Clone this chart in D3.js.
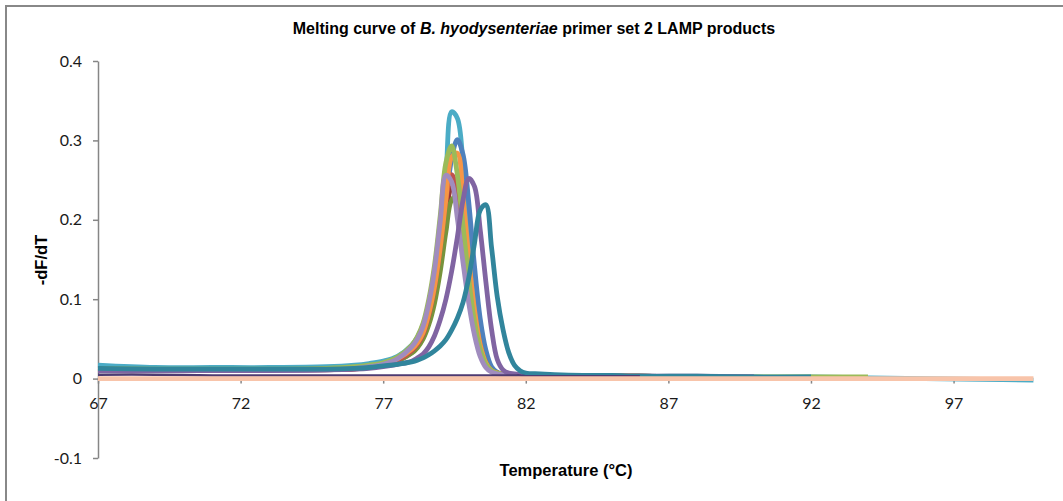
<!DOCTYPE html>
<html>
<head>
<meta charset="utf-8">
<script src="https://cdn.jsdelivr.net/npm/d3@7"></script>
<style>
  html, body { margin: 0; padding: 0; background: #fff; }
  svg { display: block; }
</style>
</head>
<body>
<svg id="chart" width="1063" height="501"></svg>
<script>
// ---------------- DATA ----------------
const temps = [67, 69, 71, 73, 75, 76, 76.5, 77, 77.5, 78,
  78.2, 78.4, 78.6, 78.8, 79.0, 79.2, 79.4, 79.6, 79.8, 80.0,
  80.2, 80.4, 80.6, 80.8, 81.0, 81.2, 81.4, 81.6, 81.8, 82.0,
  82.5, 83, 84, 85, 86, 88, 90, 92, 94, 96, 98, 99.8];

const xTicks = [67, 72, 77, 82, 87, 92, 97];
const yTicks = [-0.1, 0, 0.1, 0.2, 0.3, 0.4];
const yTickLabels = ["-0.1", "0", "0.1", "0.2", "0.3", "0.4"];

const aqua = [0.017,0.014,0.014,0.014,0.015,0.017,0.019,0.022,0.028,0.042,
  0.052,0.068,0.095,0.135,0.178,0.255,0.336,0.328,0.272,0.192,
  0.112,0.056,0.026,0.012,0.007,0.006,0.005,0.005,0.005,0.004,
  0.004,0.004,0.003,0.003,0.003,0.002,0.002,0.002,0.001,0.000,-0.001,-0.002];
const blue = [0.012,0.011,0.011,0.011,0.012,0.014,0.016,0.019,0.024,0.036,
  0.045,0.058,0.080,0.112,0.158,0.220,0.277,0.301,0.282,0.222,
  0.142,0.076,0.036,0.015,0.008,0.006,0.005,0.005,0.005,0.004,
  0.004,0.004,0.003,0.003,0.003,0.002,0.002,null,null,null,null,null];
const darkRed = [0.010,0.010,0.010,0.010,0.011,0.012,0.014,0.017,0.022,0.033,
  0.040,0.052,0.072,0.102,0.145,0.200,0.240,0.238,0.195,0.135,
  0.080,0.040,0.019,0.010,0.007,0.006,0.005,0.005,0.005,0.004,
  0.004,0.004,0.003,0.003,0.003,null,null,null,null,null,null,null];
const olive = [0.011,0.011,0.011,0.011,0.012,0.013,0.015,0.017,0.022,0.032,
  0.039,0.050,0.068,0.095,0.135,0.185,0.225,0.230,0.195,0.138,
  0.082,0.042,0.020,0.010,0.007,0.006,0.005,0.005,0.005,0.004,
  0.004,0.004,0.003,0.003,0.003,0.002,null,null,null,null,null,null];
const red = [0.011,0.011,0.011,0.011,0.012,0.013,0.015,0.018,0.023,0.035,
  0.043,0.056,0.080,0.115,0.165,0.225,0.257,0.237,0.182,0.120,
  0.066,0.034,0.017,0.009,0.007,0.006,0.005,0.005,0.005,0.004,
  0.004,0.004,0.003,0.003,0.003,0.002,null,null,null,null,null,null];
const orange = [0.012,0.011,0.011,0.011,0.012,0.014,0.016,0.019,0.025,0.037,
  0.045,0.058,0.082,0.116,0.165,0.226,0.279,0.284,0.228,0.152,
  0.087,0.043,0.020,0.010,0.007,0.006,0.005,0.005,0.005,0.004,
  0.004,0.004,0.003,0.003,0.003,0.002,null,null,null,null,null,null];
const green = [0.013,0.012,0.012,0.012,0.013,0.015,0.017,0.020,0.027,0.042,
  0.053,0.070,0.100,0.143,0.205,0.272,0.293,0.257,0.192,0.126,
  0.072,0.037,0.018,0.010,0.007,0.006,0.005,0.005,0.005,0.004,
  0.004,0.004,0.003,0.003,0.003,0.002,0.002,0.002,0.002,null,null,null];
const lilac = [0.011,0.010,0.010,0.010,0.011,0.013,0.015,0.018,0.025,0.040,
  0.050,0.066,0.095,0.137,0.198,0.256,0.248,0.202,0.146,0.095,
  0.055,0.028,0.014,0.008,0.006,0.005,0.005,0.004,0.004,0.004,
  0.004,0.004,0.003,0.003,0.003,0.002,0.002,null,null,null,null,null];
const purple = [0.010,0.010,0.010,0.010,0.011,0.012,0.013,0.015,0.018,0.022,
  0.026,0.031,0.040,0.054,0.074,0.100,0.135,0.178,0.225,0.252,
  0.242,0.188,0.122,0.062,0.024,0.011,0.007,0.006,0.005,0.005,
  0.004,0.004,0.004,0.003,0.003,0.003,0.002,null,null,null,null,null];
const teal = [0.013,0.012,0.012,0.012,0.012,0.013,0.014,0.016,0.018,0.021,
  0.023,0.026,0.030,0.035,0.041,0.049,0.061,0.076,0.096,0.127,
  0.170,0.212,0.219,0.165,0.103,0.062,0.033,0.017,0.010,0.007,
  0.006,0.005,0.004,0.004,0.003,0.003,0.002,0.002,null,null,null,null];
const navy = [0.005,0.005,0.004,0.004,0.004,0.004,0.004,0.004,0.004,0.004,
  0.004,0.004,0.004,0.004,0.004,0.004,0.004,0.004,0.004,0.004,
  0.004,0.004,0.004,0.004,0.004,0.004,0.004,0.004,0.004,0.003,
  0.003,0.003,0.003,0.003,0.003,null,null,null,null,null,null,null];
const salmon = [0,0,0,0,0,0,0,0,0,0, 0,0,0,0,0,0,0,0,0,0,
  0,0,0,0,0,0,0,0,0,0, 0,0,0,0,0,0,0,0,0,0, 0,0];

// drawing order (bottom to top) and colours
const seriesList = [aqua, blue, darkRed, olive, red, orange, green, lilac, purple, teal, navy, salmon];
const seriesColors = ["#4BACC6", "#4F81BD", "#953735", "#77933C", "#C0504D", "#F79646",
  "#9BBB59", "#A08CBE", "#8064A2", "#31859C", "#4D3B72", "#F8C4AA"];
const seriesWidths = [4.8, 4.8, 4.8, 4.8, 4.8, 4.8, 4.8, 4.8, 4.8, 4.8, 2.5, 4.8];

// ---------------- CHART ----------------
const svg = d3.select("#chart");

svg.append("rect").attr("x", 6).attr("y", 6).attr("width", 1120).attr("height", 600)
  .attr("fill", "none").attr("stroke", "#888").attr("stroke-width", 2);

const x = d3.scaleLinear().domain([67, 99.75]).range([98, 1032]);
const y = d3.scaleLinear().domain([-0.1, 0.4]).range([458, 61]);

// Title
const title = svg.append("text").attr("x", 534).attr("y", 34).attr("text-anchor", "middle")
  .attr("font-family", "'Liberation Sans', Arial, sans-serif").attr("font-size", 16)
  .attr("font-weight", "bold").attr("fill", "#000");
title.append("tspan").text("Melting curve of ");
title.append("tspan").attr("font-style", "italic").text("B. hyodysenteriae");
title.append("tspan").text(" primer set 2 LAMP products");

// Y axis
const yAxis = svg.append("g").attr("transform", `translate(${x(67)},0)`)
  .call(d3.axisLeft(y).tickValues(yTicks).tickSize(5).tickSizeOuter(0).tickPadding(11)
    .tickFormat((d, i) => yTickLabels[i]));
yAxis.select(".domain").attr("stroke", "#868686").attr("stroke-width", 1.5);
yAxis.selectAll(".tick line").attr("stroke", "#868686").attr("stroke-width", 1.5);
yAxis.selectAll(".tick text").attr("font-family", "Lato, 'Open Sans', sans-serif")
  .attr("font-size", 16).attr("fill", "#1a1a1a");

// X axis at y = 0
const xAxis = svg.append("g").attr("transform", `translate(0,${y(0)})`)
  .call(d3.axisBottom(x).tickValues(xTicks).tickSize(5).tickSizeOuter(0).tickPadding(14)
    .tickFormat(d3.format("d")));
xAxis.select(".domain").attr("stroke", "#868686").attr("stroke-width", 1.5);
xAxis.selectAll(".tick line").attr("stroke", "#868686").attr("stroke-width", 1.5);
xAxis.selectAll(".tick text").attr("font-family", "Lato, 'Open Sans', sans-serif")
  .attr("font-size", 16).attr("fill", "#1a1a1a");

// Axis titles
svg.append("text").attr("x", 566).attr("y", 476).attr("text-anchor", "middle")
  .attr("font-family", "'Liberation Sans', Arial, sans-serif").attr("font-size", 16.5)
  .attr("font-weight", "bold").text("Temperature (°C)");
svg.append("text").attr("transform", `translate(47,260) rotate(-90)`).attr("text-anchor", "middle")
  .attr("font-family", "'Liberation Sans', Arial, sans-serif").attr("font-size", 16.5)
  .attr("font-weight", "bold").text("-dF/dT");

// Curves
const line = d3.line()
  .defined(d => d[1] !== null)
  .x(d => x(d[0]))
  .y(d => y(d[1]))
  .curve(d3.curveCatmullRom.alpha(0.5));

const plot = svg.append("g");
seriesList.forEach((vals, i) => {
  const pts = temps.map((t, j) => [t, vals[j]]);
  plot.append("path").datum(pts)
    .attr("d", line)
    .attr("fill", "none")
    .attr("stroke", seriesColors[i])
    .attr("stroke-width", seriesWidths[i])
    .attr("stroke-linejoin", "round")
    .attr("stroke-linecap", "butt");
});
</script>
</body>
</html>
